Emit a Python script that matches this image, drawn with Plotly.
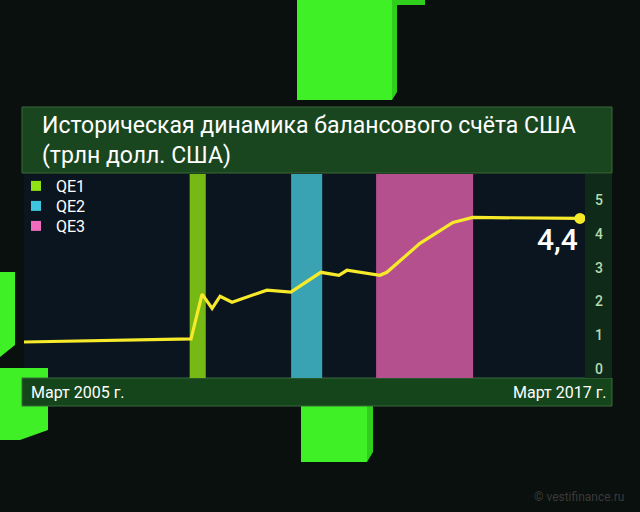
import plotly.graph_objects as go
import pandas as pd

# ---- data ----
dates = ["2005-03-01", "2008-10-08", "2009-01-03", "2009-03-23", "2009-05-25",
         "2009-08-27", "2010-05-29", "2010-12-04", "2011-07-28", "2011-12-18",
         "2012-02-19", "2012-11-05", "2012-12-30", "2013-09-17", "2014-06-04",
         "2014-11-08", "2017-03-01"]
balance = [0.80, 0.89, 2.22, 1.80, 2.16, 1.98, 2.34, 2.28, 2.87, 2.78,
           2.93, 2.78, 2.87, 3.73, 4.35, 4.50, 4.47]

qe_names = ["QE1", "QE2", "QE3"]
qe_start = ["2008-09-27", "2010-12-06", "2012-10-06"]
qe_end = ["2009-02-01", "2011-08-08", "2014-11-10"]
qe_band_colors = ["#76b814", "#3aa3b3", "#b5508e"]
qe_legend_colors = ["#8fe014", "#3ec6de", "#f06cbc"]

y_ticks = [0, 1, 2, 3, 4, 5]
end_label = "4,4"
title_text = "Историческая динамика балансового счёта США<br>(трлн долл. США)"
x_label_left = "Март 2005 г."
x_label_right = "Март 2017 г."

Y_MIN, Y_MAX = -0.27, 5.79
X_RANGE = ["2005-03-01", "2017-04-10"]

# ---- layout geometry (pixels) ----
W, H = 640, 512
ML, MR, MT, MB = 24, 55, 174, 134
PW, PH = W - ML - MR, H - MT - MB


def px(x):
    return (x - ML) / PW


def py(y):
    return (H - MB - y) / PH


def rect(x0, y0, x1, y1, color, line=None, layer="below"):
    return dict(type="rect", xref="paper", yref="paper",
                x0=px(x0), x1=px(x1), y0=py(y1), y1=py(y0),
                fillcolor=color, line=dict(width=1 if line else 0, color=line or color),
                layer=layer)


def poly(points, color):
    path = "M " + " L ".join(f"{px(a)},{py(b)}" for a, b in points) + " Z"
    return dict(type="path", xref="paper", yref="paper", path=path,
                fillcolor=color, line=dict(width=0), layer="below")


fig = go.Figure()

# QE bands
for name, s, e, c in zip(qe_names, qe_start, qe_end, qe_band_colors):
    s_ts, e_ts = pd.Timestamp(s), pd.Timestamp(e)
    mid = s_ts + (e_ts - s_ts) / 2
    width_ms = (e_ts - s_ts).total_seconds() * 1000
    fig.add_trace(go.Bar(x=[mid], y=[Y_MAX - Y_MIN], base=[Y_MIN], width=[width_ms],
                         marker=dict(color=c, line=dict(width=0)),
                         showlegend=False, hoverinfo="skip", name=name))

# legend entries (one legend per entry for exact spacing)
legend_ids = ["legend", "legend2", "legend3"]
for name, c, lid in zip(qe_names, qe_legend_colors, legend_ids):
    fig.add_trace(go.Scatter(x=[None], y=[None], mode="markers", name=name,
                             legend=lid,
                             marker=dict(symbol="square", size=10, color=c)))

# balance line
fig.add_trace(go.Scatter(x=dates, y=balance, mode="lines",
                         line=dict(color="#f7ea2a", width=3.2),
                         showlegend=False, hoverinfo="skip"))
fig.add_trace(go.Scatter(x=[dates[-1]], y=[balance[-1]], mode="markers",
                         marker=dict(color="#f7ea2a", size=11),
                         showlegend=False, hoverinfo="skip"))

shapes = []
# cubes (decoration)
green = "#3ff026"
green_side = "#2fd01c"
shapes.append(rect(297, -2, 392, 100, green))
shapes.append(poly([(392, 0), (397, 0), (397, 92), (392, 100)], green_side))
shapes.append(rect(395, -2, 425, 5, green_side))
shapes.append(rect(301, 405, 367, 462, green))
shapes.append(poly([(367, 405), (373, 405), (373, 452), (367, 462)], green_side))
shapes.append(poly([(0, 272), (15, 272), (15, 345), (0, 357)], green))
shapes.append(poly([(0, 368), (48, 368), (48, 430), (20, 440), (0, 440)], green))
# panels
shapes.append(rect(22, 107, 612, 173, "#1a461f", line="#3b6a3c"))
shapes.append(rect(22, 378, 612, 406, "#15461b", line="#3b6a3c"))
shapes.append(rect(585, 174, 612, 378, "#0f2a18"))

annotations = [
    dict(text=title_text, xref="paper", yref="paper", x=px(40), y=py(141),
         xanchor="left", yanchor="middle", align="left", showarrow=False,
         font=dict(family="Roboto", size=23, color="#ffffff")),
    dict(text=x_label_left, xref="paper", yref="paper", x=px(29), y=py(392),
         xanchor="left", yanchor="middle", showarrow=False,
         font=dict(family="Roboto", size=16, color="#ffffff")),
    dict(text=x_label_right, xref="paper", yref="paper", x=px(609), y=py(392),
         xanchor="right", yanchor="middle", showarrow=False,
         font=dict(family="Roboto", size=16, color="#ffffff")),
    dict(text=end_label, x=dates[-1], y=balance[-1], xref="x", yref="y",
         xanchor="right", yanchor="top", showarrow=False, xshift=0, yshift=-2,
         font=dict(family="Roboto", size=30, color="#ffffff", weight=500)),
    dict(text="© vestifinance.ru", xref="paper", yref="paper", x=px(626), y=py(497),
         xanchor="right", yanchor="middle", showarrow=False,
         font=dict(family="Roboto", size=12, color="#3a3a3a")),
]

legend_style = dict(xanchor="left", yanchor="middle", bgcolor="rgba(0,0,0,0)",
                    borderwidth=0, itemwidth=30,
                    font=dict(family="Roboto", size=16, color="#ffffff"))

fig.update_layout(
    width=W, height=H,
    margin=dict(l=ML, r=MR, t=MT, b=MB),
    paper_bgcolor="#0a100d",
    plot_bgcolor="#0b1520",
    shapes=shapes,
    annotations=annotations,
    showlegend=True,
    legend=dict(x=px(16), y=py(186), **legend_style),
    legend2=dict(x=px(16), y=py(206), **legend_style),
    legend3=dict(x=px(16), y=py(226), **legend_style),
    xaxis=dict(type="date", range=X_RANGE, showticklabels=False, showgrid=False,
               zeroline=False, ticks="", showline=False),
    yaxis=dict(range=[Y_MIN, Y_MAX], side="right", tickvals=y_ticks,
               showgrid=False, zeroline=False, ticks="", showline=False,
               ticklabelstandoff=9,
               tickfont=dict(family="Roboto", size=14, color="#b3dcae", weight=500)),
    barmode="overlay",
    hovermode=False,
)

fig.write_html("out.html", config={"displayModeBar": False},
               post_script="document.body.style.margin='0';document.body.style.overflow='hidden';")
